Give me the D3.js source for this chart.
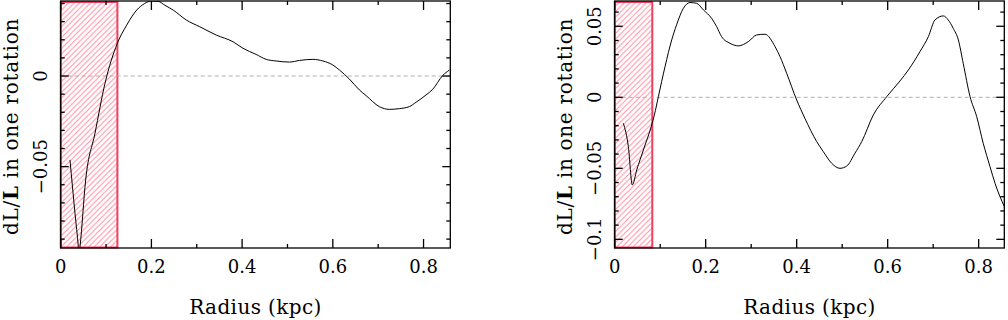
<!DOCTYPE html>
<meta charset="utf-8">
<style>
body { margin: 0; background: #fff; }
svg { font-family: "DejaVu Serif", serif; }
</style>
<svg width="1008" height="320"></svg>
<script src="https://d3js.org/d3.v7.min.js"></script>
<script>
// left panel data
var leftR = [0.0205, 0.0315, 0.0389, 0.0404, 0.0426, 0.055, 0.0756, 0.0977, 0.1248, 0.1455, 0.1676, 0.185, 0.2, 0.215, 0.23,
  0.248, 0.277, 0.3066, 0.343, 0.380, 0.402, 0.431, 0.453, 0.475, 0.5046, 0.5266, 0.556, 0.578, 0.600, 0.6146,
  0.6366, 0.6586, 0.6733, 0.7026, 0.7246, 0.7466, 0.7686, 0.7833, 0.8053, 0.820, 0.842, 0.857];
var leftDL = [-0.0463, -0.0757, -0.0941, -0.0985, -0.0941, -0.0574, -0.0316, -0.004, 0.018, 0.0281, 0.0364, 0.040, 0.0414, 0.0412, 0.039,
  0.0364, 0.0309, 0.0272, 0.0226, 0.0189, 0.0153, 0.0119, 0.0092, 0.0083, 0.0077, 0.0086, 0.0092, 0.0083, 0.0061, 0.0033,
  -0.0017, -0.0077, -0.0108, -0.0169, -0.0184, -0.018, -0.0169, -0.0145, -0.0105, -0.0074, 0.0002, 0.0033];

// right panel data
var rightR = [0.019, 0.030, 0.0388, 0.0484, 0.063, 0.0813, 0.0872, 0.096, 0.1106, 0.1253, 0.136, 0.151, 0.1656, 0.180,
  0.195, 0.213, 0.224, 0.235, 0.2535, 0.2718, 0.2938, 0.312, 0.3304, 0.3524, 0.3634, 0.378, 0.400, 0.418, 0.444,
  0.4586, 0.477, 0.4952, 0.51, 0.528, 0.543, 0.5685, 0.598, 0.627, 0.6454, 0.671, 0.6894, 0.704, 0.7223, 0.733,
  0.744, 0.7553, 0.766, 0.781, 0.7956, 0.810, 0.8249, 0.836, 0.8564];
var rightDL = [-0.0183, -0.0347, -0.0617, -0.0512, -0.0371, -0.0195, -0.0124, 0.0005, 0.0216, 0.0404, 0.051, 0.0627, 0.0667, 0.0662,
  0.0615, 0.0556, 0.0498, 0.0427, 0.038, 0.0362, 0.0392, 0.0439, 0.0444, 0.0357, 0.0286, 0.0169, -0.0019, -0.0148, -0.0312,
  -0.0383, -0.0465, -0.05, -0.0484, -0.0394, -0.0312, -0.0124, 0.0005, 0.0115, 0.0192, 0.0322, 0.0427, 0.0545, 0.0573, 0.0545,
  0.0486, 0.0404, 0.0239, 0.0005, -0.0136, -0.0324, -0.0488, -0.0606, -0.077];

var xTickVals = [0, 0.2, 0.4, 0.6, 0.8];
var xTickText = ["0", "0.2", "0.4", "0.6", "0.8"];
var leftYTicks = [-0.05, 0];
var leftYText = ["\u22120.05", "0"];
var rightYTicks = [-0.1, -0.05, 0, 0.05];
var rightYText = ["\u22120.1", "\u22120.05", "0", "0.05"];

var svg = d3.select("svg");

// hatch pattern
var defs = svg.append("defs");
var pat = defs.append("pattern")
    .attr("id", "hatch")
    .attr("patternUnits", "userSpaceOnUse")
    .attr("width", 5.5).attr("height", 5.5);
pat.append("path")
    .attr("d", "M-1,1 l2,-2 M0,5.5 l5.5,-5.5 M4.5,6.5 l2,-2")
    .attr("stroke", "#ff8ca2")
    .attr("stroke-width", 1);

function panel(opt) {
  var g = svg.append("g");
  var x = d3.scaleLinear().domain(opt.xDomain).range([opt.left, opt.right]);
  var y = d3.scaleLinear().domain(opt.yDomain).range([opt.bottom, opt.top]);

  var clipId = "clip" + opt.id;
  defs.append("clipPath").attr("id", clipId)
    .append("rect")
      .attr("x", opt.left).attr("y", opt.top)
      .attr("width", opt.right - opt.left).attr("height", opt.bottom - opt.top);

  // excluded region
  g.append("rect")
      .attr("x", x(0)).attr("y", opt.top + 1)
      .attr("width", x(opt.hatch) - x(0)).attr("height", opt.bottom - opt.top - 1.5)
      .attr("fill", "url(#hatch)")
      .attr("stroke", "#f0405e")
      .attr("stroke-width", 2);

  // zero line
  g.append("line")
      .attr("x1", opt.left).attr("x2", opt.right)
      .attr("y1", y(0)).attr("y2", y(0))
      .attr("stroke", "#b0b0b0")
      .attr("stroke-dasharray", "4,3")
      .attr("stroke-width", 1);

  var line = d3.line()
      .x(function(d) { return x(d[0]); })
      .y(function(d) { return y(d[1]); })
      .curve(d3.curveMonotoneX);

  g.append("path")
      .datum(d3.zip(opt.r, opt.dl))
      .attr("clip-path", "url(#" + clipId + ")")
      .attr("fill", "none")
      .attr("stroke", "#000")
      .attr("stroke-width", 1)
      .attr("d", line);

  // frame
  g.append("rect")
      .attr("x", opt.left).attr("y", opt.top)
      .attr("width", opt.right - opt.left).attr("height", opt.bottom - opt.top)
      .attr("fill", "none").attr("stroke", "#000").attr("stroke-width", 1.3);

  // ticks (inward, all four sides)
  var xMinor = d3.range(0, opt.xDomain[1], 0.1);
  xMinor.forEach(function(v, i) {
    var len = (i % 2 === 0) ? 9 : 4;
    var px = x(v);
    g.append("line").attr("x1", px).attr("x2", px)
        .attr("y1", opt.bottom).attr("y2", opt.bottom - len)
        .attr("stroke", "#000").attr("stroke-width", 1.3);
    g.append("line").attr("x1", px).attr("x2", px)
        .attr("y1", opt.top).attr("y2", opt.top + len)
        .attr("stroke", "#000").attr("stroke-width", 1.3);
  });
  var yStart = Math.ceil(opt.yDomain[0] * 100), yEnd = Math.floor(opt.yDomain[1] * 100);
  for (var k = yStart; k <= yEnd; k++) {
    var len = (k % 5 === 0) ? 8 : 4;
    var py = y(k / 100);
    g.append("line").attr("x1", opt.left).attr("x2", opt.left + len)
        .attr("y1", py).attr("y2", py)
        .attr("stroke", "#000").attr("stroke-width", 1.3);
    g.append("line").attr("x1", opt.right).attr("x2", opt.right - len)
        .attr("y1", py).attr("y2", py)
        .attr("stroke", "#000").attr("stroke-width", 1.3);
  }

  // tick labels
  g.selectAll(".xl").data(xTickVals).enter().append("text")
      .attr("x", function(d) { return x(d); })
      .attr("y", opt.bottom + 25)
      .attr("text-anchor", "middle")
      .attr("font-size", 18)
      .text(function(d, i) { return xTickText[i]; });

  g.selectAll(".yl").data(opt.yTicks).enter().append("text")
      .attr("transform", function(d) { return "translate(" + (opt.left - 14) + "," + y(d) + ") rotate(-90)"; })
      .attr("text-anchor", "middle")
      .attr("font-size", 18)
      .text(function(d, i) { return opt.yText[i]; });

  // axis titles
  g.append("text")
      .attr("x", (opt.left + opt.right) / 2)
      .attr("y", 314)
      .attr("text-anchor", "middle")
      .attr("font-size", 20)
      .attr("letter-spacing", 0.4)
      .text("Radius (kpc)");

  var yt = g.append("text")
      .attr("transform", "translate(" + (opt.left - 43) + "," + ((opt.top + opt.bottom) / 2 + 2) + ") rotate(-90)")
      .attr("text-anchor", "middle")
      .attr("font-size", 20)
      .attr("letter-spacing", 0.7);
  yt.append("tspan").text("dL/");
  yt.append("tspan").attr("font-weight", "bold").text("L");
  yt.append("tspan").text(" in one rotation");
}

panel({ id: "a", left: 60.7, right: 450.3, top: 1, bottom: 248,
  xDomain: [0, 0.859], yDomain: [-0.0949, 0.0414], hatch: 0.125,
  r: leftR, dl: leftDL, yTicks: leftYTicks, yText: leftYText });

panel({ id: "b", left: 614.7, right: 1004.3, top: 1, bottom: 248,
  xDomain: [0, 0.8563], yDomain: [-0.1061, 0.0678], hatch: 0.0826,
  r: rightR, dl: rightDL, yTicks: rightYTicks, yText: rightYText });
</script>
